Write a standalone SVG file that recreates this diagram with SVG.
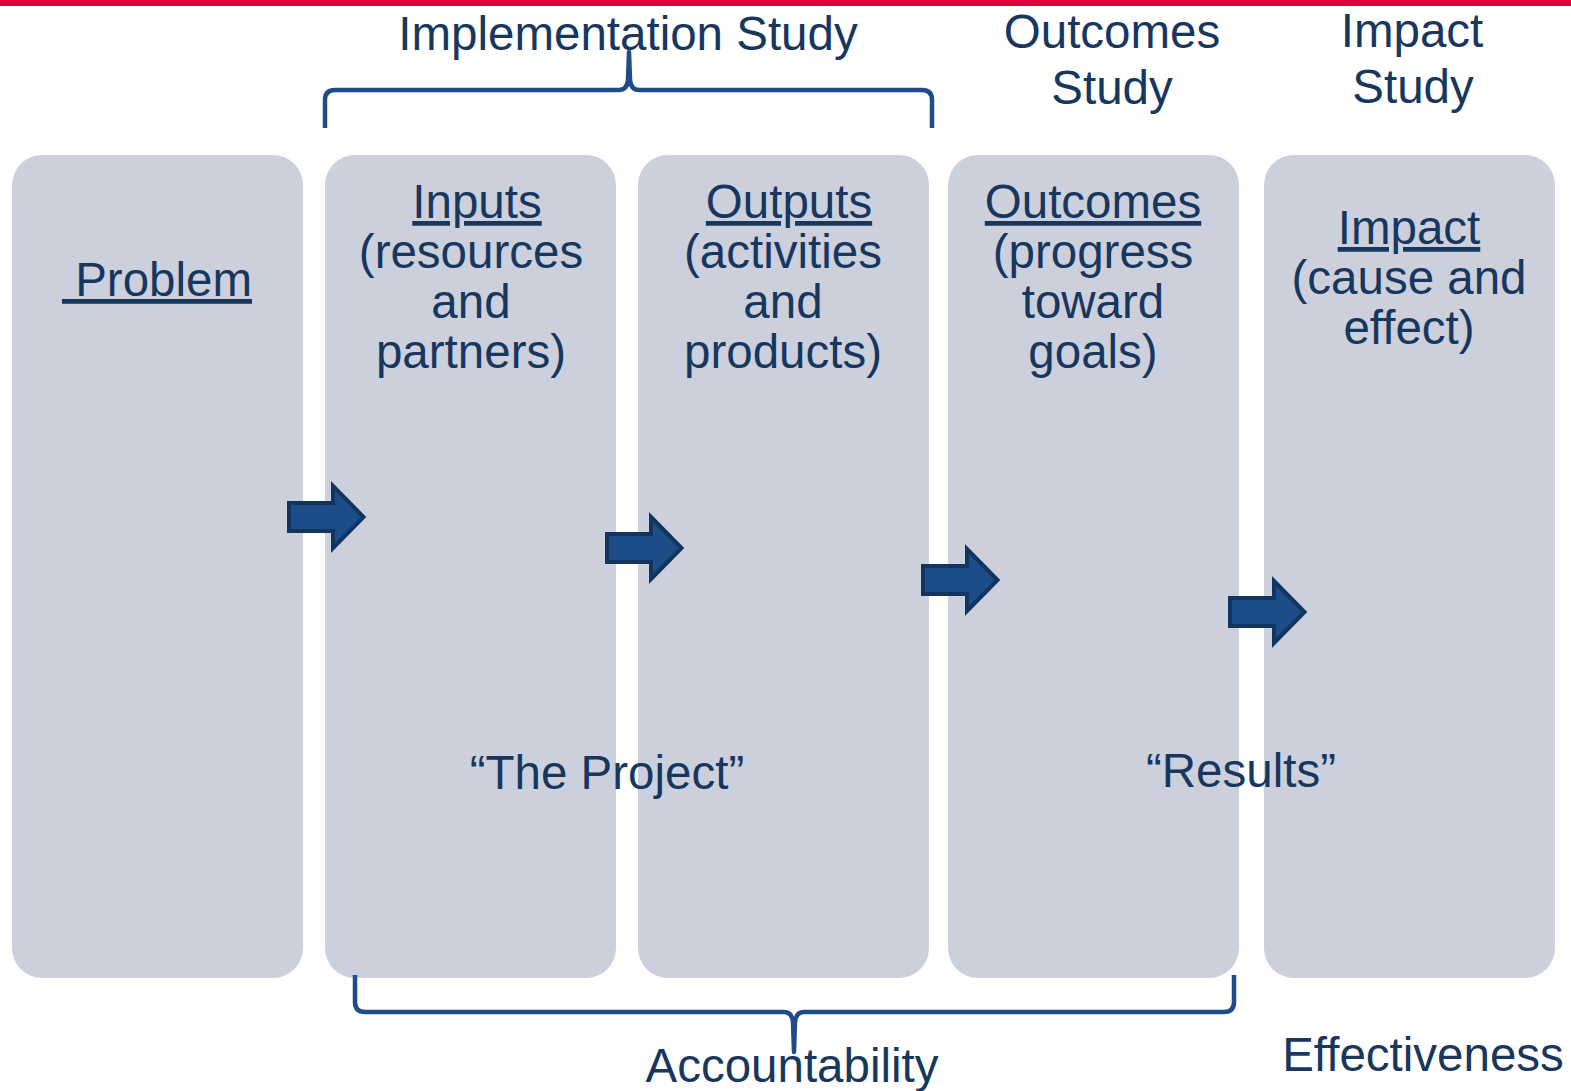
<svg xmlns="http://www.w3.org/2000/svg" width="1571" height="1091" viewBox="0 0 1571 1091">
<defs>
<style>
.box{fill:#CBD0DC;}
.t{font-family:"Liberation Sans",Arial,sans-serif;font-size:47.5px;fill:#17375E;text-anchor:middle;}
.u{text-decoration:underline;}
.brace{fill:none;stroke:#1D4C89;stroke-width:4.5;stroke-linejoin:round;}
.arrow{fill:#1D4D89;stroke:#11355F;stroke-width:4;stroke-linejoin:miter;}
</style>
<path id="arr" d="M2,-14 H46 V-31 L76.5,0 L46,31 V14 H2 Z"/>
</defs>
<rect x="0" y="0" width="1571" height="1091" fill="#FFFFFF"/>
<rect x="0" y="0" width="1571" height="6" fill="#E4003A"/>

<g id="header-implementation"><text class="t" x="628" y="50">Implementation Study</text></g>
<g id="header-outcomes"><text class="t" x="1112" y="48">Outcomes</text><text class="t" x="1112" y="104">Study</text></g>
<g id="header-impact"><text class="t" x="1412" y="47">Impact</text><text class="t" x="1413" y="103">Study</text></g>

<g id="node-problem">
<rect class="box" x="12" y="155" width="291" height="823" rx="30"/>
<text class="t u" x="157" y="296" xml:space="preserve"> Problem</text>
</g>
<g id="node-inputs">
<rect class="box" x="325" y="155" width="291" height="823" rx="30"/>
<text class="t u" x="477" y="218">Inputs</text>
<text class="t" x="471" y="268">(resources</text>
<text class="t" x="471" y="318">and</text>
<text class="t" x="471" y="368">partners)</text>
</g>
<g id="node-outputs">
<rect class="box" x="638" y="155" width="291" height="823" rx="30"/>
<text class="t u" x="789" y="218">Outputs</text>
<text class="t" x="783" y="268">(activities</text>
<text class="t" x="783" y="318">and</text>
<text class="t" x="783" y="368">products)</text>
</g>
<g id="node-outcomes">
<rect class="box" x="948" y="155" width="291" height="823" rx="30"/>
<text class="t u" x="1093" y="218">Outcomes</text>
<text class="t" x="1093" y="268">(progress</text>
<text class="t" x="1093" y="318">toward</text>
<text class="t" x="1093" y="368">goals)</text>
</g>
<g id="node-impact">
<rect class="box" x="1264" y="155" width="291" height="823" rx="30"/>
<text class="t u" x="1409" y="244">Impact</text>
<text class="t" x="1409" y="294">(cause and</text>
<text class="t" x="1409" y="344">effect)</text>
</g>

<g id="connectors">
<use href="#arr" class="arrow" transform="translate(287,517)"/>
<use href="#arr" class="arrow" transform="translate(605,548)"/>
<use href="#arr" class="arrow" transform="translate(921,580)"/>
<use href="#arr" class="arrow" transform="translate(1228,612)"/>
<path class="brace" d="M325,128 V100 Q325,90 335,90 H619 Q627,90 628,80 L629,52 L630,80 Q631,90 639,90 H922 Q932,90 932,100 V128"/>
<path class="brace" d="M355,975 V1002 Q355,1012 365,1012 H784 Q792,1012 793,1022 L794,1052 L795,1022 Q796,1012 804,1012 H1224 Q1234,1012 1234,1002 V975"/>
</g>

<g id="label-project"><text class="t" x="607" y="789">“The Project”</text></g>
<g id="label-results"><text class="t" x="1241" y="787">“Results”</text></g>
<g id="label-accountability"><text class="t" x="792" y="1082">Accountability</text></g>
<g id="label-effectiveness"><text class="t" x="1423" y="1071">Effectiveness</text></g>
</svg>
